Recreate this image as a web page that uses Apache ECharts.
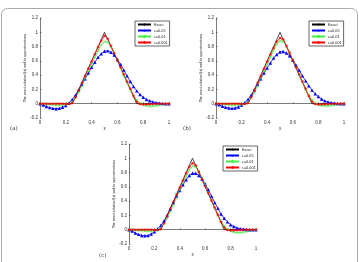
<!DOCTYPE html>
<html>
<head>
<meta charset="utf-8">
<script src="https://cdn.jsdelivr.net/npm/echarts@6/dist/echarts.min.js"></script>
<style>
  html, body { margin: 0; padding: 0; background: #fff; }
  #chart { width: 359px; height: 262px; }
</style>
</head>
<body>
<div id="chart"></div>
<script>
// x grid used by the approximations
var xs = [0, 0.025, 0.05, 0.075, 0.1, 0.125, 0.15, 0.175, 0.2, 0.225, 0.25, 0.275, 0.3, 0.325, 0.35, 0.375, 0.4,
  0.425, 0.45, 0.475, 0.5, 0.525, 0.55, 0.575, 0.6, 0.625, 0.65, 0.675, 0.7, 0.725, 0.75, 0.775, 0.8, 0.825,
  0.85, 0.875, 0.9, 0.925, 0.95, 0.975, 1];

// exact solution (hat)
var exactX = [0, 0.25, 0.5, 0.75, 1];
var exactY = [0, 0, 1, 0, 0];

// panel (a)
var blueA = [0, -0.02, -0.04, -0.055, -0.065, -0.07, -0.065, -0.05, -0.025, 0.01, 0.06, 0.12, 0.19, 0.27, 0.35, 0.43, 0.51,
  0.58, 0.65, 0.70, 0.735, 0.74, 0.72, 0.68, 0.62, 0.55, 0.47, 0.39, 0.31, 0.24, 0.18, 0.13, 0.09, 0.06, 0.04, 0.025,
  0.015, 0.008, 0.003, 0, 0];
var greenA = [0, 0, -0.005, -0.01, -0.015, -0.02, -0.02, -0.02, -0.015, 0, 0.03, 0.08, 0.16, 0.25, 0.35, 0.45, 0.55,
  0.65, 0.74, 0.82, 0.87, 0.86, 0.80, 0.71, 0.61, 0.50, 0.39, 0.29, 0.19, 0.11, 0.05, 0.01, -0.015, -0.03, -0.035,
  -0.035, -0.03, -0.02, -0.01, -0.005, 0];
var redA = [0, 0, 0, 0, 0, 0, 0, 0, -0.005, -0.005, 0.01, 0.09, 0.19, 0.29, 0.39, 0.49, 0.59, 0.69, 0.79, 0.88, 0.95,
  0.91, 0.81, 0.71, 0.61, 0.51, 0.41, 0.31, 0.21, 0.11, 0.03, -0.005, -0.01, -0.01, -0.008, -0.005, 0, 0, 0, 0, 0];

// panel (b)
var blueB = [0, -0.015, -0.035, -0.05, -0.06, -0.065, -0.06, -0.045, -0.02, 0.015, 0.06, 0.12, 0.19, 0.27, 0.35, 0.43,
  0.50, 0.57, 0.64, 0.69, 0.725, 0.73, 0.71, 0.67, 0.61, 0.54, 0.47, 0.39, 0.32, 0.25, 0.19, 0.14, 0.10, 0.065, 0.04,
  0.025, 0.015, 0.008, 0.003, 0, 0];
var greenB = [0, 0, -0.005, -0.01, -0.015, -0.02, -0.02, -0.02, -0.015, 0, 0.03, 0.08, 0.16, 0.25, 0.35, 0.45, 0.55,
  0.65, 0.75, 0.83, 0.88, 0.87, 0.81, 0.72, 0.62, 0.51, 0.40, 0.30, 0.20, 0.12, 0.05, 0.01, -0.015, -0.025, -0.03,
  -0.03, -0.025, -0.02, -0.01, -0.005, 0];
var redB = [0, 0, 0, 0, 0, 0, 0, 0, -0.005, -0.005, 0.01, 0.09, 0.19, 0.29, 0.39, 0.49, 0.59, 0.69, 0.78, 0.87, 0.92,
  0.90, 0.81, 0.71, 0.61, 0.51, 0.41, 0.31, 0.21, 0.11, 0.03, -0.005, -0.01, -0.01, -0.008, -0.005, 0, 0, 0, 0, 0];

// panel (c)
var blueC = [0, -0.02, -0.045, -0.065, -0.08, -0.085, -0.08, -0.06, -0.03, 0.01, 0.06, 0.12, 0.20, 0.29, 0.38, 0.47,
  0.55, 0.63, 0.70, 0.76, 0.79, 0.79, 0.76, 0.71, 0.64, 0.56, 0.47, 0.38, 0.30, 0.22, 0.16, 0.11, 0.07, 0.045, 0.025,
  0.015, 0.008, 0.004, 0, 0, 0];
var greenC = [0, 0, -0.005, -0.01, -0.015, -0.02, -0.02, -0.02, -0.015, 0, 0.03, 0.08, 0.16, 0.25, 0.35, 0.45, 0.55,
  0.65, 0.75, 0.84, 0.89, 0.88, 0.82, 0.73, 0.63, 0.52, 0.41, 0.30, 0.20, 0.12, 0.05, 0.01, -0.02, -0.035, -0.04,
  -0.04, -0.035, -0.025, -0.015, -0.005, 0];
var redC = [0, 0, 0, 0, 0, 0, 0, 0, -0.005, -0.005, 0.01, 0.09, 0.19, 0.29, 0.39, 0.49, 0.59, 0.69, 0.79, 0.88, 0.93,
  0.90, 0.81, 0.71, 0.61, 0.51, 0.41, 0.31, 0.21, 0.11, 0.03, -0.005, -0.01, -0.01, -0.008, -0.005, 0, 0, 0, 0, 0];

var names = ['Exact', 'c=0.05', 'c=0.01', 'c=0.001'];
var panels = [
  { blue: blueA, green: greenA, red: redA },
  { blue: blueB, green: greenB, red: redB },
  { blue: blueC, green: greenC, red: redC }
];

var grids = [
  { left: 40, top: 18, width: 129, height: 100 },
  { left: 216, top: 18, width: 128, height: 100 },
  { left: 129, top: 144, width: 127, height: 100 }
];
var legendPos = [
  { left: 135, top: 21 },
  { left: 309, top: 21 },
  { left: 223, top: 146 }
];

var xMark = 'path://M0,0L10,10M10,0L0,10';
var starMark = 'path://M5,0L5,10M0,5L10,5M1.5,1.5L8.5,8.5M8.5,1.5L1.5,8.5';

function pairs(x, y) {
  var out = [];
  for (var i = 0; i < x.length; i++) {
    out.push([x[i], y[i]]);
  }
  return out;
}

var xAxes = [], yAxes = [], series = [], legends = [];
for (var p = 0; p < 3; p++) {
  xAxes.push({
    type: 'value', gridIndex: p, min: 0, max: 1, interval: 0.2,
    name: 'x', nameLocation: 'middle', nameGap: 7,
    nameTextStyle: { fontSize: 4.5, color: '#222' },
    axisLine: { lineStyle: { color: '#222', width: 0.6 } },
    axisTick: { inside: true, length: 1.5, lineStyle: { color: '#222', width: 0.5 } },
    axisLabel: { fontSize: 4.5, color: '#333', margin: 2 },
    splitLine: { show: false }
  });
  yAxes.push({
    type: 'value', gridIndex: p, min: -0.2, max: 1.2, interval: 0.2,
    name: 'The exact solution f(x) and its approximations',
    nameLocation: 'middle', nameGap: 12,
    nameTextStyle: { fontSize: 3.4, color: '#222' },
    axisLine: { show: true, lineStyle: { color: '#222', width: 0.6 } },
    axisTick: { show: true, inside: true, length: 1.5, lineStyle: { color: '#222', width: 0.5 } },
    axisLabel: { fontSize: 4.5, color: '#333', margin: 2 },
    splitLine: { show: false }
  });

  series.push({
    name: names[0], type: 'line', xAxisIndex: p, yAxisIndex: p,
    data: pairs(exactX, exactY), symbol: 'none',
    lineStyle: { color: '#000', width: 0.7 }, itemStyle: { color: '#000' }
  });
  series.push({
    name: names[1], type: 'line', xAxisIndex: p, yAxisIndex: p,
    data: pairs(xs, panels[p].blue), symbol: 'triangle', symbolSize: 3.4,
    lineStyle: { color: '#0000ff', width: 0.8 }, itemStyle: { color: '#0000ff' }
  });
  series.push({
    name: names[2], type: 'line', xAxisIndex: p, yAxisIndex: p,
    data: pairs(xs, panels[p].green), symbol: xMark, symbolSize: 2.6,
    lineStyle: { color: '#44ee44', width: 0.8 },
    itemStyle: { color: '#44ee44', borderColor: '#44ee44', borderWidth: 0.6 }
  });
  series.push({
    name: names[3], type: 'line', xAxisIndex: p, yAxisIndex: p,
    data: pairs(xs, panels[p].red), symbol: starMark, symbolSize: 2.8,
    lineStyle: { color: '#ff0000', width: 0.8 },
    itemStyle: { color: '#ff0000', borderColor: '#ff0000', borderWidth: 0.6 }
  });

  legends.push({
    data: names, orient: 'vertical',
    left: legendPos[p].left, top: legendPos[p].top,
    itemWidth: 13, itemHeight: 2.5, itemGap: 2,
    padding: [1.5, 2, 1.5, 2],
    backgroundColor: '#fff', borderColor: '#000', borderWidth: 0.6,
    textStyle: { fontSize: 3.8, color: '#222', padding: [0, 0, 0, -2] },
    selectedMode: false
  });
}

var myChart = echarts.init(document.getElementById('chart'));
myChart.setOption({
  animation: false,
  backgroundColor: '#fff',
  grid: grids,
  xAxis: xAxes,
  yAxis: yAxes,
  legend: legends,
  series: series,
  graphic: [
    { type: 'rect', shape: { x: 1.5, y: 8.5, width: 356, height: 262, r: 6 },
      style: { fill: 'none', stroke: '#aaa', lineWidth: 1 }, z: -1 },
    { type: 'text', left: 10, top: 126, style: { text: '(a)', fontSize: 5.5, fontFamily: 'DejaVu Serif', fill: '#333' } },
    { type: 'text', left: 183, top: 126, style: { text: '(b)', fontSize: 5.5, fontFamily: 'DejaVu Serif', fill: '#333' } },
    { type: 'text', left: 99, top: 253, style: { text: '(c)', fontSize: 5.5, fontFamily: 'DejaVu Serif', fill: '#333' } }
  ]
});
</script>
</body>
</html>
